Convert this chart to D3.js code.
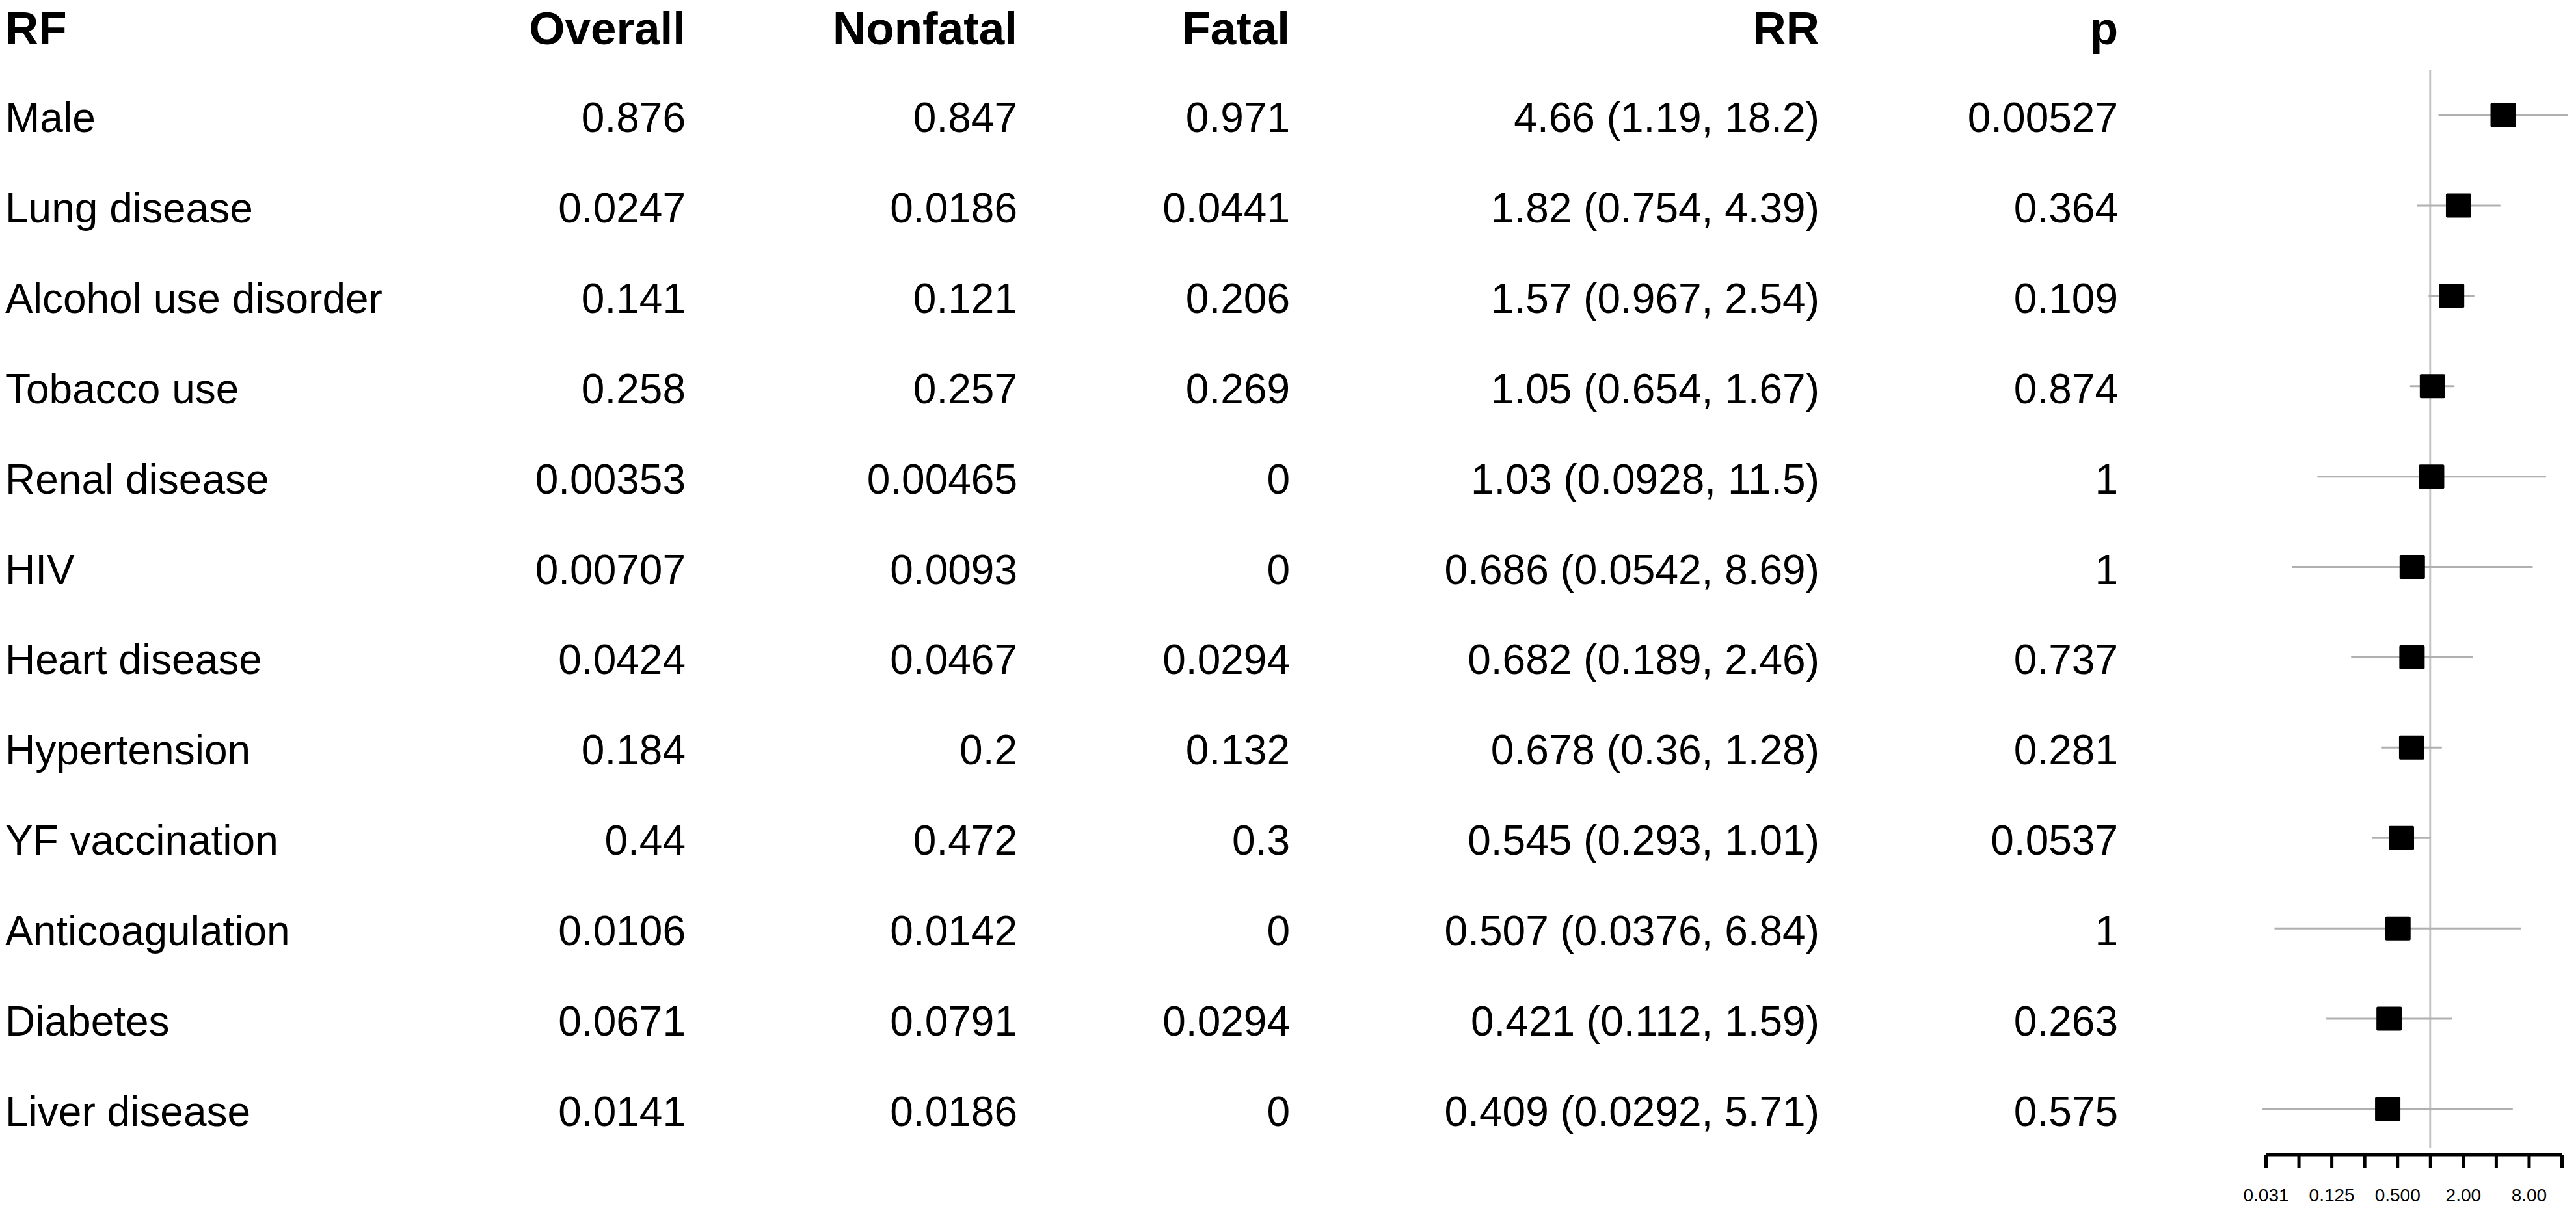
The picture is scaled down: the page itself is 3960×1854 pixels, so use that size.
<!DOCTYPE html>
<html>
<head>
<meta charset="utf-8">
<script src="https://cdn.jsdelivr.net/npm/d3@7"></script>
<style>
  body { margin: 0; background: #fff; }
  svg { display: block; font-family: "Liberation Sans", Arial, sans-serif; }
</style>
</head>
<body>
<div id="chart"></div>
<script>
// table columns
var headers = ["RF", "Overall", "Nonfatal", "Fatal", "RR", "p"];
var rf = ["Male", "Lung disease", "Alcohol use disorder", "Tobacco use", "Renal disease", "HIV",
  "Heart disease", "Hypertension", "YF vaccination", "Anticoagulation", "Diabetes", "Liver disease"];
var overall = [0.876, 0.0247, 0.141, 0.258, 0.00353, 0.00707, 0.0424, 0.184, 0.44, 0.0106, 0.0671, 0.0141];
var nonfatal = [0.847, 0.0186, 0.121, 0.257, 0.00465, 0.0093, 0.0467, 0.2, 0.472, 0.0142, 0.0791, 0.0186];
var fatal = [0.971, 0.0441, 0.206, 0.269, 0, 0, 0.0294, 0.132, 0.3, 0, 0.0294, 0];
var rr = [4.66, 1.82, 1.57, 1.05, 1.03, 0.686, 0.682, 0.678, 0.545, 0.507, 0.421, 0.409];
var lower = [1.19, 0.754, 0.967, 0.654, 0.0928, 0.0542, 0.189, 0.36, 0.293, 0.0376, 0.112, 0.0292];
var upper = [18.2, 4.39, 2.54, 1.67, 11.5, 8.69, 2.46, 1.28, 1.01, 6.84, 1.59, 5.71];
var pval = [0.00527, 0.364, 0.109, 0.874, 1, 1, 0.737, 0.281, 0.0537, 1, 0.263, 0.575];

// axis ticks (log2)
var tickValues = [1/32, 1/16, 1/8, 1/4, 1/2, 1, 2, 4, 8, 16];
var tickLabels = ["0.031", "", "0.125", "", "0.500", "", "2.00", "", "8.00", ""];

var width = 3960, height = 1854;

var rows = rf.map(function (d, i) {
  return {
    rf: d,
    overall: overall[i],
    nonfatal: nonfatal[i],
    fatal: fatal[i],
    rr: rr[i],
    lo: lower[i],
    hi: upper[i],
    p: pval[i],
    rrText: rr[i] + " (" + lower[i] + ", " + upper[i] + ")"
  };
});

var svg = d3.select("#chart").append("svg")
  .attr("width", width)
  .attr("height", height);

svg.append("rect").attr("width", width).attr("height", height).attr("fill", "#fff");

// row positions
var y = d3.scalePoint().domain(rf).range([177, 1705]);
var x = d3.scaleLog().base(2).domain([1/32, 16]).range([3483, 3938]);

// text columns
var cols = [
  { key: "rf", anchor: "start", x: 8 },
  { key: "overall", anchor: "end", x: 1054 },
  { key: "nonfatal", anchor: "end", x: 1564 },
  { key: "fatal", anchor: "end", x: 1983 },
  { key: "rrText", anchor: "end", x: 2797 },
  { key: "p", anchor: "end", x: 3256 }
];

var header = svg.append("g").attr("class", "header");
header.selectAll("text")
  .data(cols)
  .join("text")
  .attr("x", function (d) { return d.x; })
  .attr("y", 68)
  .attr("text-anchor", function (d) { return d.anchor; })
  .attr("font-size", 71)
  .attr("font-weight", "bold")
  .attr("fill", "#000")
  .text(function (d, i) { return headers[i]; });

var body = svg.append("g").attr("class", "body");
cols.forEach(function (c) {
  body.append("g").selectAll("text")
    .data(rows)
    .join("text")
    .attr("x", c.x)
    .attr("y", function (d) { return y(d.rf) + 26; })
    .attr("text-anchor", c.anchor)
    .attr("font-size", 64)
    .attr("fill", "#000")
    .text(function (d) { return d[c.key]; });
});

// forest plot
var plot = svg.append("g").attr("class", "forest");

plot.append("line")
  .attr("x1", x(1)).attr("x2", x(1))
  .attr("y1", 107).attr("y2", 1765)
  .attr("stroke", "#c4c4c4")
  .attr("stroke-width", 3);

plot.selectAll("line.ci")
  .data(rows)
  .join("line")
  .attr("class", "ci")
  .attr("x1", function (d) { return x(d.lo); })
  .attr("x2", function (d) { return x(d.hi); })
  .attr("y1", function (d) { return y(d.rf); })
  .attr("y2", function (d) { return y(d.rf); })
  .attr("stroke", "#b0b0b0")
  .attr("stroke-width", 3);

var bw = 39, bh = 37;
plot.selectAll("rect.box")
  .data(rows)
  .join("rect")
  .attr("class", "box")
  .attr("x", function (d) { return x(d.rr) - bw / 2; })
  .attr("y", function (d) { return y(d.rf) - bh / 2; })
  .attr("width", bw)
  .attr("height", bh)
  .attr("rx", 2)
  .attr("fill", "#000");

// x axis
var axis = svg.append("g")
  .attr("transform", "translate(0,1775)")
  .call(d3.axisBottom(x)
    .tickValues(tickValues)
    .tickFormat(function (d, i) { return tickLabels[i]; })
    .tickSize(21)
    .tickSizeOuter(0)
    .tickPadding(31));

axis.select(".domain").attr("stroke", "#000").attr("stroke-width", 5)
  .attr("d", "M" + x.range()[0] + ",0H" + x.range()[1]);
axis.selectAll(".tick line").attr("stroke", "#000").attr("stroke-width", 5);
axis.selectAll(".tick text")
  .attr("font-size", 28)
  .attr("font-family", "\"Liberation Sans\", Arial, sans-serif")
  .attr("fill", "#000");
</script>
</body>
</html>
